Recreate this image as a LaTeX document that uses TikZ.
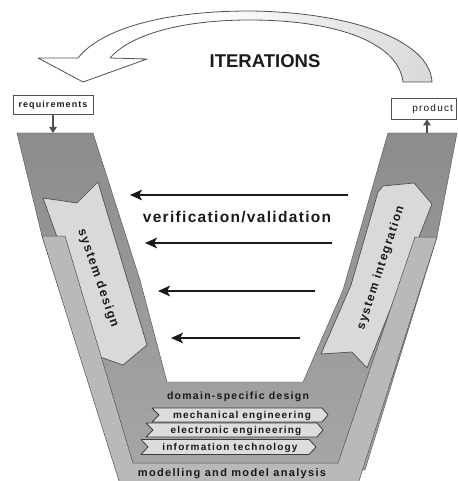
\documentclass[tikz,border=0pt]{standalone}
\usepackage{fontspec}
\setmainfont{Liberation Sans}
\newfontfamily\lsp[LetterSpace=12]{Liberation Sans}
\newfontfamily\lspv[LetterSpace=8.5]{Liberation Sans}
\usetikzlibrary{arrows.meta}
\definecolor{darkV}{HTML}{8C8C8C}
\definecolor{darkVb}{HTML}{A6A6A6}
\definecolor{lightband}{HTML}{B9B9B9}
\definecolor{arrowfill}{HTML}{D9D9D9}
\definecolor{edge}{HTML}{505050}
\definecolor{ink}{HTML}{1A1A1A}
\pgfdeclarehorizontalshading{iterfade}{100bp}{color(0bp)=(white); color(45bp)=(white); color(100bp)=(gray!55)}
\begin{document}
\begin{tikzpicture}[x=1pt,y=-1pt,
  lbl/.style={text=ink, inner sep=0pt},
  bf/.style={font=\lsp\bfseries\fontsize{#1}{#1}\selectfont},
  rg/.style={font=\lsp\fontsize{#1}{#1}\selectfont},
  nbf/.style={font=\bfseries\fontsize{#1}{#1}\selectfont},
  box/.style={draw=edge, line width=0.8pt, fill=white, text=ink, inner sep=0pt, text height=6.5pt, text depth=0pt},
  varrow/.style={draw=ink, line width=2.3pt, -{Stealth[length=12pt,width=10.5pt,inset=3pt]}},
  feed/.style={draw=edge, line width=2pt, -{Triangle[length=6pt,width=7.5pt]}},
  sysarrow/.style={fill=arrowfill, draw=edge, line width=0.7pt, line join=round},
  banner/.style={fill=arrowfill!90!white, draw=ink!85, line width=0.8pt, line join=round},
  band/.style={fill=lightband, draw=edge, line width=0.5pt, line join=round}]
\useasboundingbox (0,0) rectangle (457,481);
\clip (0,0) rectangle (457,481);

% iteration arrow
\shade[shading=iterfade, draw=edge, line width=0.8pt, line join=round]
  (432,82) .. controls (430,40) and (350,12) .. (250,11)
  .. controls (160,11) and (100,30) .. (78,58) -- (38,58) -- (83,82) -- (147,59) -- (110,58)
  .. controls (130,35) and (180,20) .. (250,20)
  .. controls (330,20) and (398,40) .. (403,82) -- cycle;
\node[lbl, nbf=18.5, anchor=base] (iter) at (265,68) {ITERATIONS};

% dark V
\shade[top color=darkV, bottom color=darkVb, draw=edge, line width=0.4pt, line join=round]
  (17,133) -- (93,133) -- (140,280) -- (167,382) -- (303,382) -- (343,290) -- (388,133)
  -- (457,133) -- (437,237) -- (365,470) -- (118,470) -- (42,236) -- cycle;

% system design / integration arrows
\filldraw[sysarrow] (43,198) -- (77,203) -- (98,182) -- (147,345) -- (123,365) -- (100,357) -- cycle;
\filldraw[sysarrow] (378,192) -- (383,186) -- (414,183) -- (432,204) -- (367,368) -- (352,352) -- (321,354) -- (351,285) -- cycle;

% light outer band
\filldraw[band] (42,236) -- (65,236) -- (133,463) -- (338,463) -- (415,237) -- (437,237) -- (358,484) -- (120,484) -- cycle;

\node[lbl, bf=12.5, rotate=-71] (sd) at (98,278) {system design};
\node[lbl, bf=12, rotate=72] (si) at (381,268) {system integration};

% domain-specific design
\node[lbl, bf=10.5, anchor=base] (dsd) at (238,399.5) {domain-specific design};
\filldraw[banner] (152,408) -- (322,408) -- (328,415) -- (322,422) -- (152,422) -- (159,415) -- cycle;
\node[lbl, bf=10, anchor=base] (me) at (242,418.6) {mechanical engineering};
\filldraw[banner] (146,423) -- (317,423) -- (323,430) -- (317,437) -- (146,437) -- (153,430) -- cycle;
\node[lbl, bf=10, anchor=base] (ee) at (236,433.6) {electronic engineering};
\filldraw[banner] (141,439.5) -- (309,439.5) -- (316,447) -- (309,454.5) -- (141,454.5) -- (148,447) -- cycle;
\node[lbl, bf=10, anchor=base] (it) at (230,450.6) {information technology};
\node[lbl, bf=11, anchor=base] (mma) at (232,476) {modelling and model analysis};

% verification arrows
\coordinate (v1s) at (348,195); \coordinate (v1e) at (130,195);
\coordinate (v2s) at (332,243); \coordinate (v2e) at (145,243);
\coordinate (v3s) at (315,291); \coordinate (v3e) at (158,291);
\coordinate (v4s) at (300,338); \coordinate (v4e) at (171,338);
\draw[varrow] (v1s) -- (v1e);
\draw[varrow] (v2s) -- (v2e);
\draw[varrow, line width=2.7pt] (v3s) -- (v3e);
\draw[varrow] (v4s) -- (v4e);
\node[lbl, font=\lspv\bfseries\fontsize{15.5}{15.5}\selectfont, anchor=base] (vv) at (237,222) {verification/validation};

% requirements / product
\node[box, bf=9, minimum width=80pt, minimum height=19pt] (req) at (53,104.5) {requirements};
\node[box, rg=10, minimum height=21pt, text width=59pt, align=right, inner xsep=3pt] (prod) at (423.5,108.5) {product};
\coordinate (reqin) at (53,133);
\draw[feed] (req.south) -- (reqin);
\coordinate (prodout) at (427,133);
\draw[feed] (prodout) -- (prodout |- prod.south);
\end{tikzpicture}
\end{document}
